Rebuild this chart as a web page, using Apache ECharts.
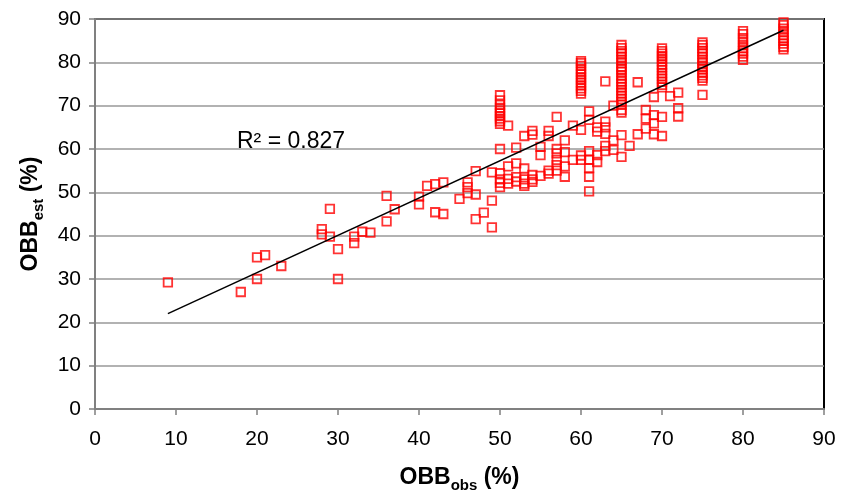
<!DOCTYPE html>
<html>
<head>
<meta charset="utf-8">
<script src="https://cdn.jsdelivr.net/npm/echarts@6/dist/echarts.min.js"></script>
<style>
html,body{margin:0;padding:0;background:#fff;}
#c{width:852px;height:492px;}
</style>
</head>
<body>
<div id="c"></div>
<script>
// Axis ticks
var xTicks = [0,10,20,30,40,50,60,70,80,90];
var yTicks = [0,10,20,30,40,50,60,70,80,90];

// Scattered points [OBBobs, OBBest]
var lowPoints = [
  [9,29.2],[18,27],[20,35],[20,30],[21,35.5],[23,33],[28,41.5],[28,40.3],
  [29,46.2],[29,39.8],[30,36.9],[30,30],[32,39.8],[32,38.3],[33,40.9],[34,40.7],
  [36,49.2],[36,43.3],[37,46.1],[40,49],[40,47.2],[41,51.5],[42,51.9],[42,45.4],
  [43,52.3],[43,45],[45,48.5],[46,52.3],[46,51.2],[46,49.8],[47,54.9],[47,49.5],
  [47,43.8],[48,45.3],[49,54.6],[49,48.1],[49,41.9]
];
var midPoints = [
  [50,60],[50,54.4],[50,53],[50,52.2],[50,51.2],
  [51,65.4],[51,56],[51,53.1],[51,52],
  [52,60.3],[52,56.7],[52,53.5],[52,52.5],
  [53,63],[53,55.5],[53,53],[53,52],[53,51.5],
  [54,64.2],[54,63.3],[54,54],[54,53],[54,52.4],
  [55,60.5],[55,58.6],[55,53.8],
  [56,64.2],[56,63],[56,55],[56,54.3],
  [57,67.4],[57,60],[57,59],[57,57.5],[57,56.3],[57,55],
  [58,62],[58,59.3],[58,56],[58,53.6],
  [59,65.4],[59,57.5],
  [60,64.4],[60,58.5],[60,57.5],
  [61,68.7],[61,66.7],[61,59.5],[61,57.5],[61,55.6],[61,53.6],[61,50.2],
  [62,65],[62,64],[62,58.6],[62,57],
  [63,75.6],[63,66.3],[63,65],[63,63.5],[63,60.7],[63,59.5],
  [64,70],[64,62],[64,59.8],
  [65,63.2],[65,58.2],[66,60.7],[67,75.4],[67,63.4],
  [68,69],[68,67],[68,64.7],
  [69,72],[69,67.8],[69,65.9],[69,63.4],
  [70,67.4],[70,63],[71,72.2],
  [72,73],[72,69.4],[72,67.5],[75,72.5]
];
// Dense vertical stacks
var stack50 = [72.4,71.2,70.2,69.5,68.8,68.2,67.6,67.0,66.4,65.8];
var stack60 = [80.3,79.8,79.2,78.5,77.8,77.2,76.5,76.0,75.3,74.7,74.0,73.4,72.8];
var stack65 = [84.0,83.3,82.6,82.0,81.2,80.5,79.8,79.0,78.4,77.8,77.0,76.3,75.6,75.0,74.3,73.6,72.9,72.2,71.5,70.8,70.2,69.0,68.4];
var stack70 = [83.2,82.6,82.0,81.4,80.8,80.2,79.5,78.9,78.2,77.5,76.8,76.2,75.5,74.8,74.2];
var stack75 = [84.6,84.0,83.3,82.6,82.0,81.2,80.5,79.8,79.0,78.4,77.6,77.0,76.4,75.8];
var stack80 = [87.2,86.5,85.6,84.8,84.0,83.3,82.6,82.0,81.3,80.6];
var stack85 = [89.2,88.6,87.8,87.0,86.3,85.6,85.0,84.3,83.6,83.0];

// Trend line end points
var trendLine = [[9,22],[85,87.4]];
var r2Text = 'R\u00b2 = 0.827';

function stackPts(x, arr){ return arr.map(function(v){ return [x, v]; }); }
var allPoints = [].concat(lowPoints, midPoints,
  stackPts(50, stack50), stackPts(60, stack60), stackPts(65, stack65),
  stackPts(70, stack70), stackPts(75, stack75), stackPts(80, stack80), stackPts(85, stack85));

var FONT = 'Liberation Sans, Arial, sans-serif';
var chart = echarts.init(document.getElementById('c'), null, {renderer:'canvas'});
var nameRich = {
  b:{fontSize:23,fontWeight:'bold',fontFamily:FONT,color:'#000',lineHeight:30},
  s:{fontSize:15,fontWeight:'bold',fontFamily:FONT,color:'#000',lineHeight:15,verticalAlign:'bottom'}
};
chart.setOption({
  animation:false,
  backgroundColor:'#fff',
  grid:{left:95,right:28,top:19,bottom:83,show:true,borderColor:'#000',borderWidth:2,
        backgroundColor:'transparent',containLabel:false,outerBoundsMode:'none'},
  xAxis:{
    type:'value',min:0,max:90,interval:10,
    axisLine:{show:true,onZero:false,lineStyle:{color:'#808080',width:2}},
    axisTick:{show:true,length:6,lineStyle:{color:'#808080',width:1.5}},
    axisLabel:{color:'#000',fontSize:21,fontFamily:FONT,margin:20,
      formatter:function(v){return xTicks.indexOf(v)>=0?String(v):'';}},
    splitLine:{show:false},
    name:'{b|OBB}{s|obs}{b| (%)}',
    nameLocation:'middle',nameGap:54,
    nameTextStyle:{rich:nameRich}
  },
  yAxis:{
    type:'value',min:0,max:90,interval:10,
    axisLine:{show:true,onZero:false,lineStyle:{color:'#808080',width:2}},
    axisTick:{show:true,length:6,lineStyle:{color:'#808080',width:1.5}},
    axisLabel:{color:'#000',fontSize:21,fontFamily:FONT,margin:14,
      formatter:function(v){return yTicks.indexOf(v)>=0?String(v):'';}},
    splitLine:{show:true,lineStyle:{color:'#999',width:1.5}},
    name:'{b|OBB}{s|est}{b| (%)}',
    nameLocation:'middle',nameGap:49,nameRotate:90,
    nameTextStyle:{rich:nameRich}
  },
  series:[
    {
      type:'scatter',
      data:allPoints,
      symbol:'rect',
      symbolSize:8.5,
      itemStyle:{color:'rgba(0,0,0,0)',borderColor:'#ff0000',borderWidth:1.8},
      z:3
    },
    {
      type:'line',
      data:trendLine,
      showSymbol:false,
      symbol:'none',
      lineStyle:{color:'#000',width:1.5},
      z:4
    }
  ],
  graphic:[{
    type:'text',left:237,top:130,
    style:{text:r2Text,fontSize:23,fontFamily:FONT,fill:'#000'}
  }]
});
</script>
</body>
</html>
